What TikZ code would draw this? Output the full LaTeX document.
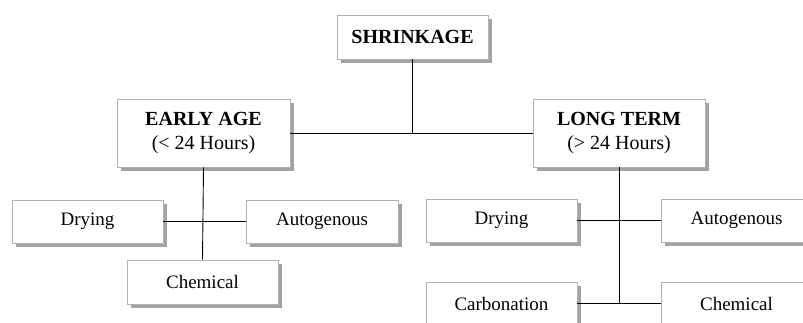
\documentclass[tikz,border=0pt]{standalone}
\usepackage{fontspec}
\setmainfont{Liberation Serif}
\usetikzlibrary{shadows}
\tikzset{
  box/.style={draw=gray!60, fill=white, line width=0.8pt, inner sep=0pt, align=center,
    drop shadow={shadow xshift=3.5pt, shadow yshift=-3.5pt, fill=gray!80, opacity=0.9},
    font=\fontsize{19}{23}\selectfont},
  childbox/.style={box, minimum width=151pt, minimum height=43pt},
  headbox/.style={box, minimum width=173pt, minimum height=68pt, font=\fontsize{20}{24}\selectfont},
  conn/.style={line width=0.9pt, black}
}
\begin{document}
\begin{tikzpicture}[x=1pt, y=-1pt]
\useasboundingbox (0,0) rectangle (803,322);
\clip (0,0) rectangle (803,322);
\node[box, minimum width=151pt, minimum height=44pt, font=\fontsize{20}{24}\selectfont\bfseries] (shr) at (412.5,37) {SHRINKAGE};
\node[headbox] (early) at (203.5,133) {\textbf{EARLY AGE}\\(< 24 Hours)};
\node[headbox, minimum width=172pt] (long) at (619,133) {\textbf{LONG TERM}\\(> 24 Hours)};
\node[childbox] (ldry) at (87.5,221.5) {Drying};
\node[childbox, minimum width=152pt] (laut) at (322,221.5) {Autogenous};
\node[childbox, minimum height=44pt] (lchem) at (202.5,282) {Chemical};
\node[childbox] (rdry) at (501.5,220.5) {Drying};
\node[childbox] (raut) at (736.5,220.5) {Autogenous};
\node[childbox] (rcarb) at (501.5,303.5) {Carbonation};
\node[childbox] (rchem) at (736.5,303.5) {Chemical};
\draw[conn] (early.east) -- (long.west);
\draw[conn] (shr.south) -- (shr.south |- early.east);
\draw[conn] (early.south) -- (lchem.north);
\draw[conn] (ldry.east) -- (laut.west);
\draw[conn] (long.south) -- (long.south |- rchem.west);
\draw[conn] (rcarb.east) -- (rchem.west);
\draw[conn] (rdry.east) -- (raut.west);
\end{tikzpicture}
\end{document}
